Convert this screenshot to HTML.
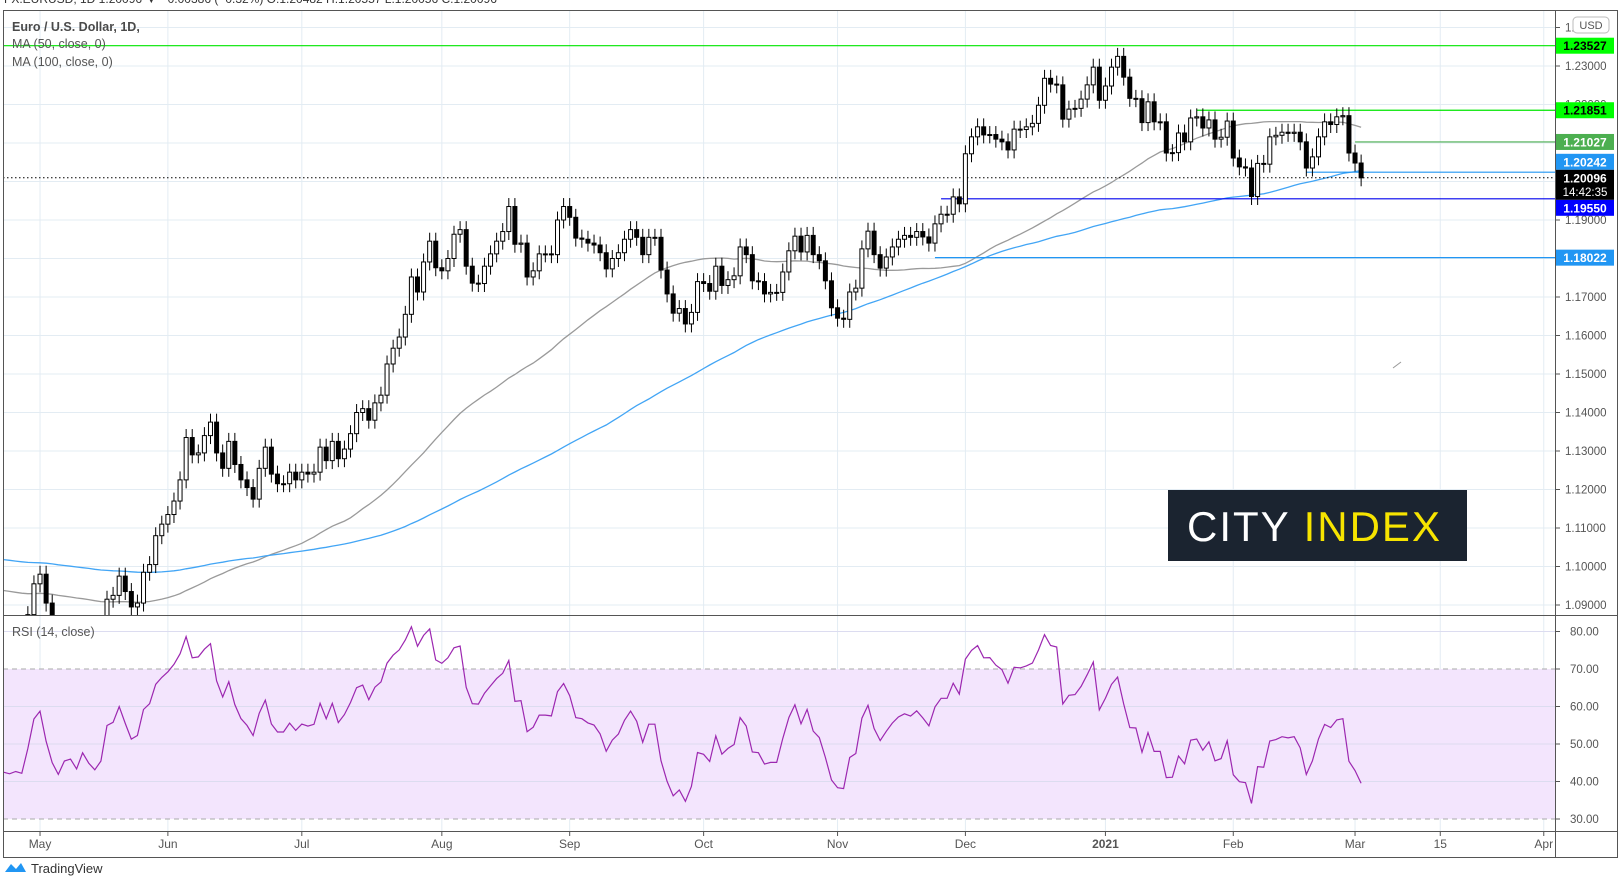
<!DOCTYPE html>
<html><head><meta charset="utf-8">
<style>
html,body{margin:0;padding:0;background:#fff;}
svg{display:block;font-family:"Liberation Sans",sans-serif;}
</style></head>
<body>
<svg id="chart" width="1624" height="893" viewBox="0 0 1624 893" xmlns="http://www.w3.org/2000/svg">
<defs>
<clipPath id="pclip"><rect x="3" y="10" width="1552" height="605"/></clipPath>
<clipPath id="rclip"><rect x="3" y="615" width="1552" height="216"/></clipPath>
</defs>
<text x="4" y="3" font-size="12" fill="#333">FX:EURUSD, 1D 1.20096 ▼ −0.00386 (−0.32%) O:1.20482 H:1.20557 L:1.20056 C:1.20096</text>
<g id="grid"></g>
<rect x="3" y="669" width="1552" height="150" fill="#f3e5fd"/>
<g id="rsigrid"></g>
<g id="mas" clip-path="url(#pclip)"></g>
<g id="hlines" clip-path="url(#pclip)"></g>
<g id="candles" clip-path="url(#pclip)"></g>
<g id="rsi" clip-path="url(#rclip)"></g>
<line x1="1393" y1="368" x2="1401" y2="362" stroke="#999" stroke-width="1"/>
<g>
<rect x="1168" y="490" width="299" height="71" fill="#1b2430"/>
<text x="1187" y="541" font-size="42" fill="#ffffff" letter-spacing="2">CITY <tspan fill="#f7e400">INDEX</tspan></text>
</g>
<g id="frame">
<rect x="3.5" y="10.5" width="1614" height="847" fill="none" stroke="#555" stroke-width="1"/>
<line x1="1555.5" y1="10" x2="1555.5" y2="858" stroke="#555"/>
<line x1="3" y1="615.5" x2="1618" y2="615.5" stroke="#555"/>
<line x1="3" y1="831.5" x2="1618" y2="831.5" stroke="#555"/>
</g>
<text x="12" y="31" font-size="12.5" font-weight="bold" fill="#4a4a4a">Euro / U.S. Dollar, 1D,</text>
<text x="12" y="48" font-size="12.5" fill="#555">MA (50, close, 0)</text>
<text x="12" y="66" font-size="12.5" fill="#555">MA (100, close, 0)</text>
<text x="12" y="636" font-size="12.5" fill="#555">RSI (14, close)</text>
<g id="axis"></g>
<g id="taxis"></g>
<g id="labels"></g>
<rect x="1573" y="17" width="36" height="16" rx="4" fill="#fff" stroke="#bbb"/>
<text x="1591" y="29" font-size="11" fill="#555" text-anchor="middle">USD</text>
<g>
<path d="M5 872 L11 864 L16 869 L21 863 L26 872 Z" fill="#2196f3"/>
<text x="31" y="873" font-size="13" fill="#333">TradingView</text>
</g>
</svg>
<script>
const closes = [1.0825,1.082,1.0825,1.082,1.0875,1.0955,
1.098,1.0905,1.084,1.080,1.0835,1.084,1.081,1.085,1.082,1.080,1.082,1.0915,1.0925,1.0975,1.0935,1.0895,1.0905,1.0985,1.1005,1.108,1.111,
1.1135,1.117,1.1225,1.1335,1.129,1.1295,1.134,1.1375,1.1295,1.1255,1.1325,1.1265,1.1225,1.1205,1.1175,1.1255,1.131,1.124,1.1215,1.1215,1.1245,1.1225,
1.1245,1.124,1.1245,1.131,1.1275,1.1325,1.128,1.1305,1.1345,1.140,1.141,1.138,1.1425,1.1445,1.1526,1.1567,1.1596,1.1655,1.1752,1.1713,1.1791,1.1845,1.1776,
1.1768,1.180,1.1863,1.1875,1.178,1.1736,1.1735,1.178,1.1812,1.1845,1.187,1.1935,1.1837,1.184,1.1752,1.1768,1.1812,1.1812,1.181,1.190,1.1935,
1.1907,1.1853,1.185,1.184,1.1835,1.1815,1.1773,1.180,1.1815,1.185,1.1875,1.1855,1.181,1.1855,1.1855,1.177,1.1708,1.1658,1.167,1.163,1.166,1.174,
1.1735,1.1715,1.178,1.173,1.1745,1.1755,1.183,1.181,1.1742,1.174,1.1708,1.1712,1.1712,1.1765,1.182,1.1858,1.1817,1.186,1.181,1.1794,1.1742,1.1672,
1.1645,1.1642,1.1713,1.1723,1.1825,1.1871,1.181,1.1775,1.1804,1.183,1.185,1.186,1.1855,1.187,1.1856,1.184,1.189,1.1915,1.1915,1.196,1.1942,
1.2072,1.2116,1.2142,1.2121,1.2122,1.2110,1.2103,1.2082,1.2136,1.2135,1.2142,1.2151,1.2198,1.2268,1.2253,1.2251,1.2162,1.2188,1.2190,1.2214,1.2251,1.2297,1.2211,
1.2248,1.2297,1.2325,1.2271,1.2216,1.2215,1.2153,1.2207,1.2155,1.2155,1.2074,1.2075,1.2126,1.2103,1.2165,1.2168,1.2139,1.2160,1.2110,1.2115,1.2157,
1.2061,1.2038,1.2035,1.1961,1.2047,1.2045,1.2116,1.212,1.2128,1.2125,1.2128,1.2103,1.2035,1.2064,1.2116,1.2155,1.2148,1.2168,1.2171,1.2074,
1.2048,1.20096];
const firstOpen = 1.083;
const wick = 0.0022;
const tickLabels = ["May","Jun","Jul","Aug","Sep","Oct","Nov","Dec","2021","Feb","Mar","15","Apr"];
const tickIdx = [6,27,49,72,93,115,137,158,181,202,222,236,253];
const priceTicks = [1.24,1.23,1.22,1.21,1.20,1.19,1.18,1.17,1.16,1.15,1.14,1.13,1.12,1.11,1.10,1.09];
const rsiTicks = [80,70,60,50,40,30];
const levelPrices = [1.23527,1.21851,1.21027,1.20242,1.19550,1.18022];
const levelStartIdx = [0,196,222,214,154,153];
const ma50Pad = 1.094, ma100Pad = 1.102;

const NS="http://www.w3.org/2000/svg";
const xI = i => 3.5 + i*6.088;
const yP = p => 66 + (1.23-p)*3850;
const yR = r => 669 + (70-r)*3.75;
function mk(tag, attrs, parent){const e=document.createElementNS(NS,tag);for(const k in attrs)e.setAttribute(k,attrs[k]);parent.appendChild(e);return e;}

const grid=document.getElementById('grid');
priceTicks.forEach(p=>{const y=yP(p); if(y>12&&y<614){const l=mk('line',{x1:3,x2:1555,y1:y,y2:y,stroke:'#e3ecf3'},grid);

}});
tickIdx.forEach(t=>{const x=xI(t);const l=mk('line',{x1:x,x2:x,y1:10,y2:831,stroke:'#e3ecf3'},grid);

});
const rg=document.getElementById('rsigrid');
rsiTicks.forEach(r=>{const dashed=(r===70||r===30);const l=mk('line',{x1:3,x2:1555,y1:yR(r),y2:yR(r),stroke:dashed?'#aaa':'#dcdcf0','stroke-dasharray':dashed?'5,4':'none'},rg);

});

function ma(n,pad){return closes.map((c,i)=>{let s=0;for(let j=i-n+1;j<=i;j++)s+=(j<0?pad:closes[j]);return s/n;});}
const m50=ma(50,ma50Pad), m100=ma(100,ma100Pad);
const mg=document.getElementById('mas');
const p50=mk('path',{d:m50.map((v,i)=>(i?'L':'M')+xI(i).toFixed(1)+' '+yP(v).toFixed(1)).join(''),fill:'none',stroke:'#9a9a9a','stroke-width':1.3},mg);


const p100=mk('path',{d:m100.map((v,i)=>(i?'L':'M')+xI(i).toFixed(1)+' '+yP(v).toFixed(1)).join(''),fill:'none',stroke:'#42a5f5','stroke-width':1.3},mg);



const hl=document.getElementById('hlines');
const lvlColors=['#00e600','#00e600','#4caf50','#2196f3','#0000ee','#2196f3'];
levelPrices.forEach((p,k)=>{const l=mk('line',{x1:xI(levelStartIdx[k]),x2:1555,y1:yP(p),y2:yP(p),stroke:lvlColors[k],'stroke-width':1.2},hl);

});
const last=closes[closes.length-1];
const dl=mk('line',{x1:3,x2:1555,y1:yP(last),y2:yP(last),stroke:'#000','stroke-dasharray':'1.5,2.5'},hl);



const cg=document.getElementById('candles');
closes.forEach((c,i)=>{const o=i?closes[i-1]:firstOpen;const up=c>=o;const x=xI(i);
const hi=Math.max(o,c)+wick, lo=Math.min(o,c)-wick;
const w=mk('line',{x1:x,x2:x,y1:yP(hi),y2:yP(lo),stroke:'#000','stroke-width':1},cg);


const top=yP(Math.max(o,c)), h=Math.max(1,yP(Math.min(o,c))-top);
const b=mk('rect',{x:x-2,y:top,width:4,height:h,fill:up?'#fff':'#000',stroke:'#000','stroke-width':1},cg);

});

let ag=0.0018, al=0.0024; const rsi=[];
closes.forEach((c,i)=>{const ch=i?c-closes[i-1]:c-firstOpen;ag=(ag*13+Math.max(ch,0))/14;al=(al*13+Math.max(-ch,0))/14;rsi.push(100-100/(1+ag/al));});
const rp=mk('path',{d:rsi.map((v,i)=>(i?'L':'M')+xI(i).toFixed(1)+' '+yR(v).toFixed(1)).join(''),fill:'none',stroke:'#9c27b0','stroke-width':1.2},document.getElementById('rsi'));



const ax=document.getElementById('axis');
priceTicks.forEach(p=>{const y=yP(p);if(y<15||y>612)return;mk('line',{x1:1555,x2:1560,y1:y,y2:y,stroke:'#555'},ax);
const t=mk('text',{x:1565,y:y+4,'font-size':11.5,fill:'#555'},ax);t.textContent=p.toFixed(5);

});
rsiTicks.forEach(r=>{const y=yR(r);mk('line',{x1:1555,x2:1560,y1:y,y2:y,stroke:'#555'},ax);
const t=mk('text',{x:1570,y:y+4,'font-size':11.5,fill:'#555'},ax);t.textContent=r.toFixed(2);

});
const ta=document.getElementById('taxis');
tickLabels.forEach((s,k)=>{const x=xI(tickIdx[k]);mk('line',{x1:x,x2:x,y1:831,y2:836,stroke:'#555'},ta);
const t=mk('text',{x:x,y:848,'font-size':12,fill:'#555','text-anchor':'middle','font-weight':s==='2021'?'bold':'normal'},ta);t.textContent=s;

});

// price labels (stacked to avoid overlap, like TradingView)
const lb=document.getElementById('labels');
const lblBg=['#00ff00','#00ff00','#4caf50','#2196f3','#0000ff','#2196f3'];
const lblFg=['#000','#000','#fff','#fff','#fff','#fff'];
function box(p,yc,bg,fg,h,txt2){const r=mk('rect',{x:1556,y:yc-8,width:58,height:h,fill:bg},lb);


const t=mk('text',{x:1585,y:yc+4.5,'font-size':12,'text-anchor':'middle',fill:fg,'font-weight':'bold'},lb);t.textContent=p.toFixed(5);


if(txt2){const t2=mk('text',{x:1585,y:yc+18,'font-size':11.5,'text-anchor':'middle',fill:fg},lb);t2.textContent=txt2;

}}
const lastY=yP(last);
levelPrices.forEach((p,k)=>{let yc=yP(p);
if(k===3) yc=Math.min(yc,lastY-8-8);
if(k===4) yc=Math.max(yc,lastY-8+30+8);
box(p,yc,lblBg[k],lblFg[k],16);});
box(last,lastY,'#000','#fff',30,'14:42:35');
</script>
</body></html>
